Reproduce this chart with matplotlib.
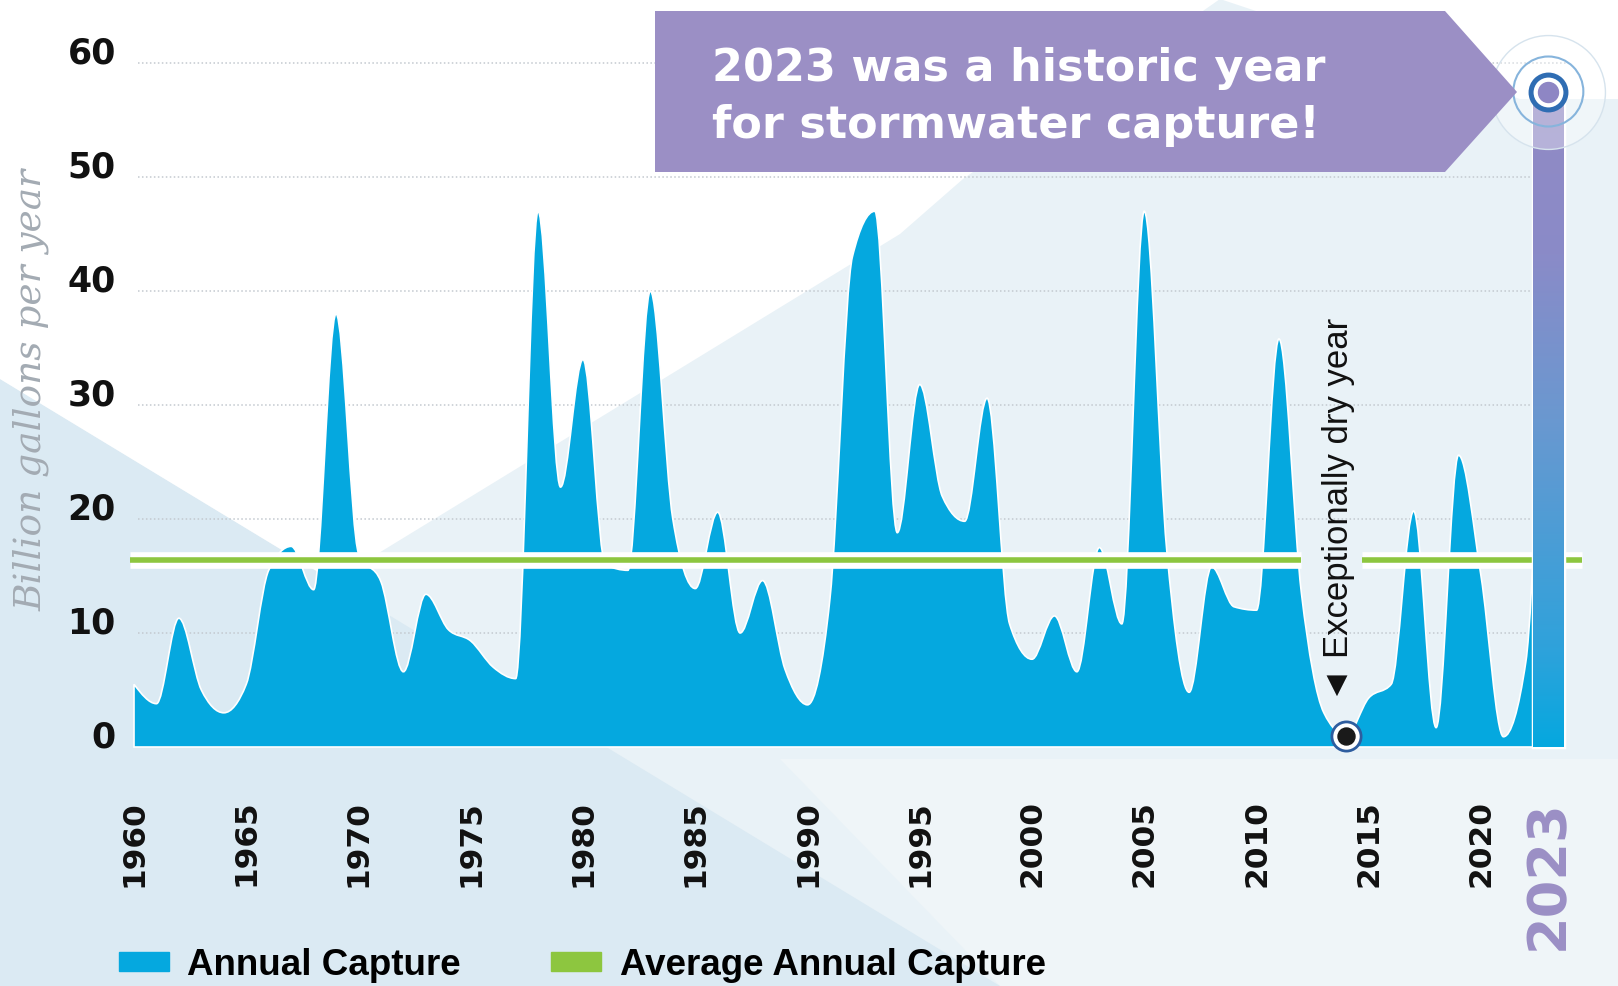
import numpy as np
import matplotlib
matplotlib.use('Agg')
import matplotlib.pyplot as plt
from matplotlib.path import Path
from matplotlib.patches import PathPatch, Polygon, Patch
from matplotlib.colors import LinearSegmentedColormap
import matplotlib.patheffects as pe

# annual stormwater capture, billion gallons
years = np.arange(1960, 2024)
capture = [5.5, 3.8, 11.3, 5.0, 3.0, 5.5, 15.5, 17.6, 13.8, 38.0,
           17.0, 14.5, 6.6, 13.4, 10.3, 9.3, 7.0, 6.0, 47.0, 22.8,
           34.0, 16.0, 15.5, 40.0, 20.0, 13.9, 20.6, 10.0, 14.6, 6.8,
           3.7, 13.0, 43.0, 47.0, 18.8, 31.8, 22.0, 19.8, 30.6, 10.8,
           7.7, 11.5, 6.6, 17.5, 10.8, 47.0, 17.3, 4.8, 15.8, 12.3,
           12.0, 35.8, 13.5, 3.0, 1.0, 4.3, 5.5, 20.7, 1.7, 25.6,
           15.0, 0.9, 7.5, 57.5]
average_capture = 16.4
dry_year = 2014
record_year = 2023

tick_years = [1960, 1965, 1970, 1975, 1980, 1985, 1990, 1995, 2000, 2005,
              2010, 2015, 2020, 2023]
y_ticks = [0, 10, 20, 30, 40, 50, 60]

BLUE = '#05a8df'
GREEN = '#8dc63f'
PURPLE = '#9b8fc5'

W, H = 1618, 987
# pixel mapping used to place the axes
X0, XS = 134, 22.45   # px of 1960, px per year
Y0, YS = 748, 11.4    # px of value 0, px per unit
xlim = (1959.5, 2024.8)
ylim = (-1.5, 62)


def monotone_path(xs, ys):
    """area path through the points with monotone cubic segments"""
    xs = np.asarray(xs, float)
    ys = np.asarray(ys, float)
    d = np.diff(ys)
    m = np.zeros(len(ys))
    for k in range(1, len(ys) - 1):
        s0, s1 = d[k - 1], d[k]
        if s0 * s1 > 0:
            m[k] = 2 * np.sign(s0) * min(abs(s0), abs(s1), abs(s0 + s1) / 4)
    m[0] = (3 * d[0] - m[1]) / 2
    m[-1] = (3 * d[-1] - m[-2]) / 2
    verts = [(xs[0], 0), (xs[0], ys[0])]
    codes = [Path.MOVETO, Path.LINETO]
    for k in range(len(xs) - 1):
        h = xs[k + 1] - xs[k]
        verts += [(xs[k] + h / 3, ys[k] + m[k] * h / 3),
                  (xs[k + 1] - h / 3, ys[k + 1] - m[k + 1] * h / 3),
                  (xs[k + 1], ys[k + 1])]
        codes += [Path.CURVE4] * 3
    verts += [(xs[-1], 0), (xs[0], 0)]
    codes += [Path.LINETO, Path.CLOSEPOLY]
    return Path(verts, codes)


fig = plt.figure(figsize=(W / 100, H / 100), dpi=100)

# background shapes
ax_bg = fig.add_axes([0, 0, 1, 1], zorder=-1)
ax_bg.set_xlim(0, W)
ax_bg.set_ylim(H, 0)
ax_bg.axis('off')
ax_bg.add_patch(Polygon([(0, 0), (W, 0), (W, H), (0, H)], color='#e9f2f7', lw=0))
ax_bg.add_patch(Polygon([(780, 760), (W, 760), (W, H), (1000, H)], color='#eff5f8', lw=0))
ax_bg.add_patch(Polygon([(0, 380), (1000, H), (0, H)], color='#dbeaf3', lw=0))
ax_bg.add_patch(Polygon([(0, 0), (1220, 0), (963, 180), (900, 235), (333, 582), (0, 380)],
                        color='white', lw=0))
ax_bg.add_patch(Polygon([(1220, 0), (W, 0), (W, 100), (1520, 100)], color='white', lw=0))

# main axes
left = X0 + XS * (xlim[0] - 1960)
right = X0 + XS * (xlim[1] - 1960)
bottom = Y0 - YS * ylim[0]
top = Y0 - YS * ylim[1]
ax = fig.add_axes([left / W, 1 - bottom / H, (right - left) / W, (bottom - top) / H])
ax.set_facecolor('none')
for s in ax.spines.values():
    s.set_visible(False)

ax.hlines(y_ticks[1:], 1960.2, 2023.8, colors='#c3c9cf', lw=1.1,
          linestyles=(0, (1, 1.6)), zorder=1)

area = PathPatch(monotone_path(years, capture), facecolor=BLUE, edgecolor='white',
                 lw=1.2, zorder=2)
ax.add_patch(area)

# average line, broken where the dry-year note sits
avg_x = [1959.8, 2012.0, np.nan, 2014.7, 2024.5]
ax.plot(avg_x, [average_capture] * len(avg_x), color=GREEN, lw=4, zorder=3,
        solid_capstyle='butt', clip_on=False,
        path_effects=[pe.Stroke(linewidth=12, foreground='white'), pe.Normal()])

# 2023 record bar with purple-to-blue gradient
rec = capture[list(years).index(record_year)]
cmap = LinearSegmentedColormap.from_list(
    'rec', [(0, BLUE), (0.15, '#2fa2db'), (0.5, '#6a98d0'), (0.75, '#8a8bc8'), (1, '#928ac4')])
grad = np.linspace(0, 1, 256).reshape(-1, 1)
ax.bar(record_year, rec, width=1.36, color='none', edgecolor='white', lw=2.5, zorder=3.5)
ax.imshow(grad, extent=[record_year - 0.68, record_year + 0.68, 0, rec], origin='lower',
          aspect='auto', cmap=cmap, zorder=4)

ax.scatter([record_year], [rec], s=6724, facecolor=(1, 1, 1, 0.35), edgecolor='#d6e3ed',
           lw=1, zorder=5, clip_on=False)
ax.scatter([record_year], [rec], s=2540, facecolor='none', edgecolor='#86b4dc',
           lw=1.5, zorder=5, clip_on=False)
ax.scatter([record_year], [rec], s=630, facecolor='white', edgecolor='#2f6db3',
           lw=3.6, zorder=6, clip_on=False)
ax.scatter([record_year], [rec], s=207, color='#8e86c4', zorder=7, clip_on=False)

# exceptionally dry year
dry = capture[list(years).index(dry_year)]
ax.scatter([dry_year], [dry], s=441, facecolor='white', edgecolor='#2e5d9f', lw=2, zorder=6,
           clip_on=False)
ax.scatter([dry_year], [dry], s=150, color='#1a1a1a', zorder=7, clip_on=False)
ax.text(dry_year - 0.35, dry + 3.0, '\u25c4 Exceptionally dry year', rotation=90,
        ha='center', va='bottom', fontsize=25, color='#111111',
        family=['Liberation Sans', 'DejaVu Sans'], zorder=7)

ax.set_xlim(*xlim)
ax.set_ylim(*ylim)

ax.set_yticks(y_ticks)
ax.set_yticklabels([str(v) for v in y_ticks], fontsize=25, fontweight='bold',
                   family='DejaVu Sans', va='baseline')
ax.set_xticks(tick_years)
ax.set_xticklabels([str(y) for y in tick_years], rotation=90, fontsize=22.5,
                   fontweight='bold', family='DejaVu Sans')
ax.tick_params(axis='both', length=0, colors='#111111')
ax.tick_params(axis='y', pad=5)
ax.tick_params(axis='x', pad=25)
lab = ax.get_xticklabels()[-1]
lab.set_color(PURPLE)
lab.set_fontsize(39)

ax.set_ylabel('Billion gallons per year', fontsize=27, style='italic',
              family='DejaVu Serif', color='#a3abb3', va='center')
ax.yaxis.set_label_coords(31 / W, 1 - 390 / H, transform=fig.transFigure)

# banner
ax_top = fig.add_axes([0, 0, 1, 1], zorder=5)
ax_top.set_xlim(0, W)
ax_top.set_ylim(H, 0)
ax_top.axis('off')
ax_top.add_patch(Polygon([(655, 12), (1445, 12), (1517, 93), (1445, 173), (655, 173)],
                         color=PURPLE, lw=0))
ax_top.text(712, 81, '2023 was a historic year', color='white', fontsize=32,
            fontweight='bold', family='DejaVu Sans', va='baseline')
ax_top.text(712, 138, 'for stormwater capture!', color='white', fontsize=32,
            fontweight='bold', family='DejaVu Sans', va='baseline')

handles = [Patch(color=BLUE), Patch(color=GREEN)]
fig.legend(handles, ['Annual Capture', 'Average Annual Capture'], loc='center left',
           bbox_to_anchor=(119 / W, 1 - 966 / H), ncol=2, frameon=False,
           prop={'family': 'Liberation Sans', 'weight': 'bold', 'size': 26.5},
           handlelength=1.36, handleheight=0.4, handletextpad=0.5,
           columnspacing=2.45, borderpad=0, borderaxespad=0)

fig.savefig('out.png', dpi=100)
